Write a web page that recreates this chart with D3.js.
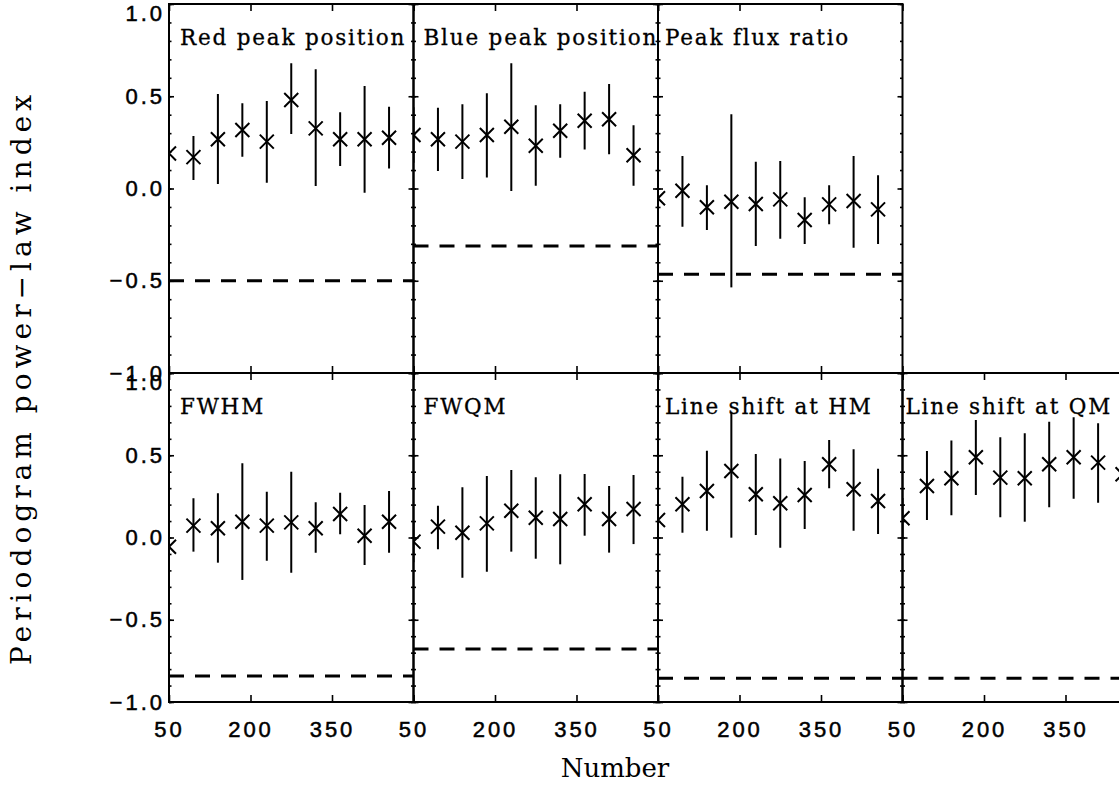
<html>
<head>
<meta charset="utf-8">
<script src="https://cdn.jsdelivr.net/npm/d3@7"></script>
<style>
  body { margin: 0; background: #fff; }
  svg { display: block; }
</style>
</head>
<body>
<svg width="1119" height="786"></svg>
<script>
// x positions of the points (Number)
var numbers = [50, 95, 140, 185, 230, 275, 320, 365, 410, 455];
var xTicks = [50, 200, 350, 500];
var yMajor = [-1, -0.5, 0, 0.5, 1];

var titles = ["Red peak position", "Blue peak position", "Peak flux ratio",
              "FWHM", "FWQM", "Line shift at HM", "Line shift at QM"];

// index value, lower and upper end of the error bar
var redPeak     = [0.19, 0.17, 0.267, 0.317, 0.254, 0.48, 0.326, 0.267, 0.267, 0.275];
var redPeakLo   = [0.07, 0.046, 0.024, 0.172, 0.031, 0.295, 0.014, 0.122, -0.023, 0.109];
var redPeakHi   = [0.31, 0.285, 0.512, 0.462, 0.474, 0.679, 0.646, 0.413, 0.556, 0.443];

var bluePeak    = [0.29, 0.267, 0.254, 0.29, 0.335, 0.232, 0.313, 0.367, 0.375, 0.18];
var bluePeakLo  = [0.14, 0.095, 0.051, 0.059, -0.014, 0.015, 0.167, 0.212, 0.185, 0.015];
var bluePeakHi  = [0.44, 0.438, 0.456, 0.516, 0.679, 0.451, 0.456, 0.525, 0.566, 0.343];

var fluxRatio   = [-0.053, -0.012, -0.102, -0.072, -0.084, -0.059, -0.171, -0.086, -0.068, -0.113];
var fluxRatioLo = [-0.18, -0.207, -0.225, -0.536, -0.312, -0.272, -0.301, -0.194, -0.321, -0.301];
var fluxRatioHi = [0.07, 0.176, 0.017, 0.402, 0.145, 0.149, -0.048, 0.017, 0.176, 0.072];

var fwhm        = [-0.056, 0.072, 0.056, 0.096, 0.072, 0.092, 0.056, 0.143, 0.011, 0.096];
var fwhmLo      = [-0.18, -0.086, -0.153, -0.258, -0.141, -0.214, -0.092, 0.019, -0.167, -0.092];
var fwhmHi      = [0.07, 0.238, 0.269, 0.451, 0.278, 0.4, 0.214, 0.272, 0.198, 0.283];

var fwqm        = [-0.025, 0.066, 0.029, 0.086, 0.163, 0.12, 0.112, 0.202, 0.112, 0.173];
var fwqmLo      = [-0.15, -0.072, -0.244, -0.208, -0.086, -0.129, -0.163, 0.011, -0.092, -0.04];
var fwqmHi      = [0.1, 0.193, 0.305, 0.374, 0.41, 0.366, 0.384, 0.386, 0.313, 0.38];

var shiftHM     = [0.106, 0.202, 0.283, 0.404, 0.263, 0.208, 0.258, 0.445, 0.293, 0.222];
var shiftHMLo   = [-0.02, 0.029, 0.041, -0.001, 0.015, -0.062, 0.052, 0.299, 0.041, 0.021];
var shiftHMHi   = [0.23, 0.37, 0.528, 0.765, 0.508, 0.481, 0.465, 0.593, 0.536, 0.418];

var shiftQM     = [0.117, 0.313, 0.36, 0.488, 0.364, 0.36, 0.445, 0.488, 0.455, 0.384];
var shiftQMLo   = [-0.01, 0.106, 0.135, 0.258, 0.123, 0.096, 0.184, 0.236, 0.212, 0.184];
var shiftQMHi   = [0.24, 0.526, 0.589, 0.714, 0.609, 0.633, 0.704, 0.731, 0.694, 0.593];

// dashed reference level of each panel
var dashLevels = [-0.5, -0.312, -0.465, -0.842, -0.678, -0.856, -0.856];

var svg = d3.select("svg");
var defs = svg.append("defs");

var colLeft = 169, colWidth = 244.5;
var titleOffset = [11, 10, 7, 3];   // title inset per column
var rows = [{top: 4, bottom: 373}, {top: 373, bottom: 702}];
var labelFont = "'Liberation Sans', Arial, sans-serif";
var serif = "'DejaVu Serif', 'Liberation Serif', serif";

var panels = [
    {row: 0, col: 0, v: redPeak,   lo: redPeakLo,   hi: redPeakHi},
    {row: 0, col: 1, v: bluePeak,  lo: bluePeakLo,  hi: bluePeakHi},
    {row: 0, col: 2, v: fluxRatio, lo: fluxRatioLo, hi: fluxRatioHi},
    {row: 1, col: 0, v: fwhm,      lo: fwhmLo,      hi: fwhmHi},
    {row: 1, col: 1, v: fwqm,      lo: fwqmLo,      hi: fwqmHi},
    {row: 1, col: 2, v: shiftHM,   lo: shiftHMLo,   hi: shiftHMHi},
    {row: 1, col: 3, v: shiftQM,   lo: shiftQMLo,   hi: shiftQMHi}
];

var fmt = d3.format(".1f");

panels.forEach(function(p, k) {
    var left = colLeft + p.col * colWidth;
    var r = rows[p.row];
    var x = d3.scaleLinear().domain([50, 500]).range([left, left + colWidth]);
    var y = d3.scaleLinear().domain([-1, 1]).range([r.bottom, r.top]);

    var g = svg.append("g");

    defs.append("clipPath").attr("id", "clip" + k)
        .append("rect")
        .attr("x", x(50)).attr("y", y(1))
        .attr("width", x(500) - x(50)).attr("height", y(-1) - y(1));

    var inner = g.append("g").attr("clip-path", "url(#clip" + k + ")");

    // dashed level
    inner.append("line")
        .attr("x1", x(50)).attr("x2", x(500))
        .attr("y1", y(dashLevels[k])).attr("y2", y(dashLevels[k]))
        .attr("stroke", "#000").attr("stroke-width", 3)
        .attr("stroke-dasharray", "15,11");

    // error bars
    inner.selectAll(".err").data(numbers).enter().append("line")
        .attr("x1", function(d) { return x(d); })
        .attr("x2", function(d) { return x(d); })
        .attr("y1", function(d, i) { return y(p.lo[i]); })
        .attr("y2", function(d, i) { return y(p.hi[i]); })
        .attr("stroke", "#000").attr("stroke-width", 2);

    // X markers
    inner.selectAll(".mk").data(numbers).enter().append("path")
        .attr("transform", function(d, i) { return "translate(" + x(d) + "," + y(p.v[i]) + ")"; })
        .attr("d", "M-7,-7L7,7M-7,7L7,-7")
        .attr("stroke", "#000").attr("stroke-width", 2).attr("fill", "none");

    // frame
    g.append("rect")
        .attr("x", x(50)).attr("y", y(1))
        .attr("width", x(500) - x(50)).attr("height", y(-1) - y(1))
        .attr("fill", "none").attr("stroke", "#000").attr("stroke-width", 2);

    // y ticks, left and right
    var minor = d3.range(-10, 11).map(function(d) { return d / 10; });
    var axes = [
        d3.axisLeft(y).tickValues(minor).tickSize(-2.5).tickFormat(""),
        d3.axisRight(y).tickValues(minor).tickSize(-2.5).tickFormat(""),
        d3.axisRight(y).tickValues(yMajor).tickSize(-5).tickFormat("")
    ];
    axes.forEach(function(a, j) {
        var ag = g.append("g")
            .attr("transform", "translate(" + (j === 0 ? x(50) : x(500)) + ",0)")
            .call(a.tickSizeOuter(0));
        ag.select(".domain").remove();
    });

    var yl = g.append("g").attr("transform", "translate(" + x(50) + ",0)")
        .call(d3.axisLeft(y).tickValues(yMajor).tickSize(-5).tickSizeOuter(0).tickPadding(4)
            .tickFormat(p.col === 0 ? fmt : ""));
    yl.select(".domain").remove();
    yl.selectAll("text")
        .attr("font-family", labelFont).attr("font-size", 22)
        .attr("letter-spacing", "3px").attr("fill", "#000")
        .attr("stroke", "#000").attr("stroke-width", 0.5)
        .filter(function(d) { return d === 1; }).attr("y", 9);

    // x ticks, top and bottom
    var xt = g.append("g").attr("transform", "translate(0," + y(1) + ")")
        .call(d3.axisTop(x).tickValues(xTicks).tickSize(-7).tickSizeOuter(0).tickFormat(""));
    xt.select(".domain").remove();

    var xb = g.append("g").attr("transform", "translate(0," + y(-1) + ")")
        .call(d3.axisBottom(x).tickValues(xTicks).tickSize(-7).tickSizeOuter(0).tickPadding(19)
            .tickFormat(function(d) { return (p.row === 1 && d !== 500) ? d : ""; }));
    xb.select(".domain").remove();
    xb.selectAll("text")
        .attr("font-family", labelFont).attr("font-size", 22)
        .attr("letter-spacing", "3px").attr("fill", "#000")
        .attr("stroke", "#000").attr("stroke-width", 0.5);

    g.selectAll(".tick line").attr("stroke", "#000").attr("stroke-width", 1.6);

    // panel title
    g.append("text")
        .attr("x", left + titleOffset[p.col]).attr("y", r.top + 41)
        .attr("font-family", serif).attr("font-size", 21.5)
        .attr("letter-spacing", "1.8px")
        .attr("stroke", "#000").attr("stroke-width", 0.3)
        .text(titles[k]);
});

// axis titles
svg.append("text")
    .attr("transform", "translate(31,380) rotate(-90)")
    .attr("text-anchor", "middle")
    .attr("font-family", serif).attr("font-size", 28)
    .attr("textLength", 570).attr("lengthAdjust", "spacing")
    .text("Periodogram power\u2212law index");

svg.append("text")
    .attr("x", 615).attr("y", 777)
    .attr("text-anchor", "middle")
    .attr("font-family", serif).attr("font-size", 26)
    .text("Number");
</script>
</body>
</html>
